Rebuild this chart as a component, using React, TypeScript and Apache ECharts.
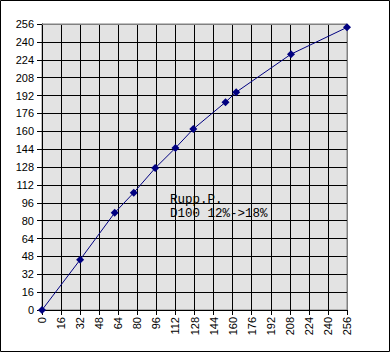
import React, { useEffect, useRef } from "react";
import * as echarts from "echarts";

const xValues = [0, 32, 61, 77, 95, 112, 127, 154, 163, 209, 256];
const yValues = [0, 45, 87, 105, 127, 145, 162, 186, 195, 229, 253];
const noteLines = ["Rupp.P.", "D100 12%->18%"];

export default function App() {
  const ref = useRef<HTMLDivElement>(null);
  useEffect(() => {
    document.body.style.margin = "0";
    const chart = echarts.init(ref.current!, null, { renderer: "svg" });
    const axisCommon = {
      type: "value" as const,
      min: 0,
      max: 256,
      interval: 16,
      axisLine: { show: true, lineStyle: { color: "#000", width: 1 } },
      axisTick: { show: true, inside: false, length: 5, lineStyle: { color: "#000" } },
      splitLine: { show: true, lineStyle: { color: "#000", width: 1 } },
      axisLabel: { color: "#000", fontFamily: "Liberation Sans, Arial", fontSize: 11 },
    };
    chart.setOption({
      animation: false,
      grid: {
        left: 42,
        top: 24,
        width: 305,
        height: 286,
        show: true,
        backgroundColor: "#E3E3E3",
        borderColor: "#808080",
        borderWidth: 1,
      },
      xAxis: {
        ...axisCommon,
        axisLabel: { ...axisCommon.axisLabel, rotate: 90, margin: 7 },
      },
      yAxis: {
        ...axisCommon,
        axisLabel: { ...axisCommon.axisLabel, margin: 8 },
      },
      series: [
        {
          type: "line",
          data: xValues.map((x, i) => [x, yValues[i]]),
          symbol: "diamond",
          symbolSize: 8,
          lineStyle: { color: "#000080", width: 1 },
          itemStyle: { color: "#000080" },
          z: 5,
        },
      ],
      graphic: [
        {
          type: "rect",
          shape: { x: 0.5, y: 0.5, width: 389, height: 351 },
          style: { fill: "none", stroke: "#000", lineWidth: 1 },
          silent: true,
        },
        {
          type: "polyline",
          shape: { points: [[42, 24.5], [347.5, 24.5], [347.5, 310]] },
          style: { fill: "none", stroke: "#808080", lineWidth: 1 },
          silent: true,
          z: 1,
        },
        {
          type: "text",
          x: 170,
          y: 193,
          style: {
            text: noteLines.join("\n"),
            font: "12.5px 'Liberation Mono', monospace",
            lineHeight: 14,
            fill: "#000",
          },
        },
      ],
    });
    return () => chart.dispose();
  }, []);
  return <div ref={ref} style={{ width: 390, height: 352 }} />;
}
